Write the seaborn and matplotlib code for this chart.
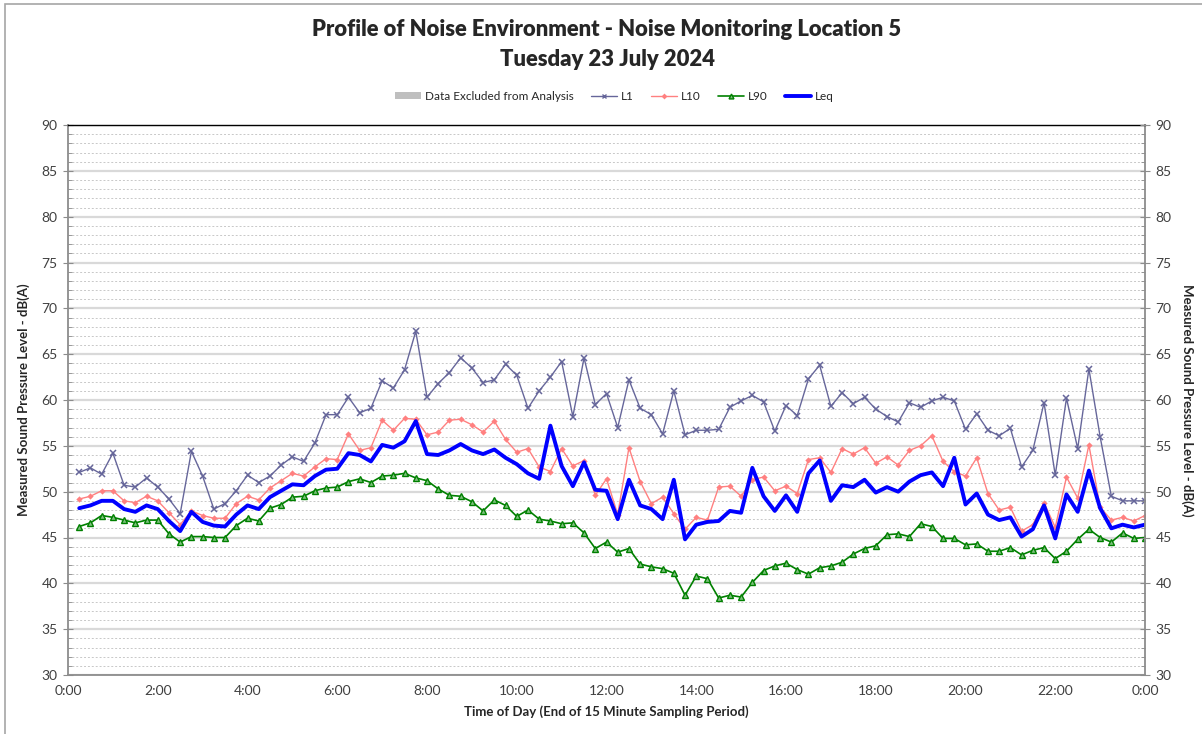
import numpy as np
import pandas as pd
import matplotlib
matplotlib.use("Agg")
import matplotlib.pyplot as plt
import seaborn as sns
from matplotlib.ticker import MultipleLocator, FuncFormatter
from matplotlib.patches import Rectangle, Patch
from matplotlib.lines import Line2D

# 15 minute periods, end times in hours (0:15 ... 24:00)
hours = np.arange(1, 97) * 0.25

L1 = [52.1, 52.6, 51.9, 54.2, 50.7, 50.5, 51.5, 50.5, 49.2, 47.6, 54.4, 51.7, 48.1, 48.7, 50.1, 51.8,
      51.0, 51.7, 52.9, 53.8, 53.3, 55.3, 58.4, 58.4, 60.3, 58.6, 59.1, 62.1, 61.3, 63.3, 67.5, 60.3,
      61.8, 63.0, 64.6, 63.5, 61.9, 62.2, 63.9, 62.7, 59.1, 61.0, 62.5, 64.2, 58.2, 64.6, 59.5, 60.7,
      57.0, 62.2, 59.1, 58.4, 56.3, 61.0, 56.2, 56.7, 56.7, 56.8, 59.2, 59.9, 60.5, 59.8, 56.6, 59.4,
      58.3, 62.3, 63.8, 59.3, 60.8, 59.6, 60.3, 59.0, 58.2, 57.6, 59.7, 59.2, 59.9, 60.3, 59.9, 56.8,
      58.5, 56.7, 56.1, 56.9, 52.7, 54.5, 59.7, 51.8, 60.2, 54.7, 63.4, 56.0, 49.5, 49.0, 49.0, 49.0]

L10 = [49.2, 49.5, 50.1, 50.1, 49.0, 48.8, 49.5, 49.0, 47.7, 46.4, 47.9, 47.4, 47.1, 47.1, 48.7, 49.5,
       49.1, 50.4, 51.2, 52.0, 51.7, 52.7, 53.6, 53.5, 56.3, 54.5, 54.8, 57.8, 56.7, 58.0, 57.9, 56.2,
       56.5, 57.8, 57.9, 57.3, 56.5, 57.7, 55.7, 54.3, 54.7, 52.7, 52.2, 54.7, 52.8, 53.4, 49.6, 51.4,
       47.5, 54.8, 51.1, 48.7, 49.4, 47.6, 45.9, 47.2, 46.9, 50.5, 50.6, 49.5, 51.3, 51.6, 50.1, 50.6,
       49.8, 53.5, 53.7, 52.1, 54.7, 54.1, 54.8, 53.1, 53.8, 52.9, 54.5, 55.0, 56.1, 53.3, 52.2, 51.7,
       53.7, 49.8, 48.0, 48.3, 45.7, 46.4, 48.8, 46.1, 51.6, 49.3, 55.1, 48.3, 46.9, 47.2, 46.8, 47.4]

L90 = [46.2, 46.6, 47.4, 47.2, 46.9, 46.6, 46.9, 46.9, 45.4, 44.5, 45.1, 45.1, 45.0, 45.0, 46.3, 47.1,
       46.8, 48.2, 48.6, 49.4, 49.5, 50.1, 50.4, 50.5, 51.1, 51.4, 51.0, 51.7, 51.8, 52.0, 51.5, 51.2,
       50.3, 49.6, 49.5, 48.9, 47.9, 49.1, 48.5, 47.3, 48.0, 47.0, 46.8, 46.5, 46.6, 45.5, 43.8, 44.5,
       43.4, 43.8, 42.1, 41.8, 41.6, 41.1, 38.7, 40.8, 40.5, 38.4, 38.7, 38.5, 40.1, 41.4, 41.9, 42.2,
       41.5, 41.0, 41.7, 41.9, 42.3, 43.2, 43.8, 44.1, 45.3, 45.4, 45.1, 46.5, 46.2, 44.9, 44.9, 44.2,
       44.3, 43.5, 43.5, 43.9, 43.1, 43.6, 43.9, 42.7, 43.5, 44.8, 45.9, 45.0, 44.5, 45.5, 44.9, 45.0]

Leq = [48.2, 48.5, 49.0, 49.0, 48.1, 47.8, 48.5, 48.1, 46.8, 45.7, 47.8, 46.7, 46.3, 46.2, 47.5, 48.5,
       48.1, 49.4, 50.1, 50.8, 50.7, 51.7, 52.4, 52.5, 54.2, 54.0, 53.3, 55.1, 54.8, 55.5, 57.7, 54.1,
       54.0, 54.5, 55.2, 54.5, 54.1, 54.6, 53.7, 53.0, 52.0, 51.4, 57.2, 52.8, 50.6, 53.2, 50.2, 50.1,
       47.0, 51.3, 48.5, 48.1, 47.0, 51.3, 44.8, 46.4, 46.7, 46.8, 47.9, 47.7, 52.6, 49.5, 47.9, 49.6,
       47.8, 52.0, 53.4, 49.0, 50.7, 50.5, 51.3, 49.9, 50.5, 50.0, 51.1, 51.8, 52.1, 50.6, 53.7, 48.6,
       49.8, 47.5, 46.9, 47.2, 45.1, 45.9, 48.5, 44.9, 49.7, 47.8, 52.3, 48.2, 46.0, 46.4, 46.1, 46.4]

df = pd.DataFrame({'hour': hours, 'L1': L1, 'L10': L10, 'L90': L90, 'Leq': Leq})

sns.set_style('white')
plt.rcParams['font.family'] = ['Lato', 'DejaVu Sans']

fig = plt.figure(figsize=(12.02, 7.34), dpi=100)
ax = fig.add_axes([68 / 1202, 1 - 675 / 734, (1145 - 68) / 1202, 550 / 734])

# outer chart frame
fig.patches.append(Rectangle((5 / 1202, -0.1), 1.2, 1 - 4 / 734 + 0.1, transform=fig.transFigure,
                             fill=False, edgecolor='#a6a6a6', linewidth=1.2))

sns.lineplot(data=df, x='hour', y='L1', ax=ax, color='#66669a', linewidth=1,
             marker='x', markersize=4, markeredgewidth=1.1, markeredgecolor='#66669a')
sns.lineplot(data=df, x='hour', y='L10', ax=ax, color='#ff8080', linewidth=1,
             marker='D', markersize=3.2, markeredgewidth=0)
sns.lineplot(data=df, x='hour', y='L90', ax=ax, color='#008000', linewidth=1.2,
             marker='^', markersize=4.5, markerfacecolor='#7fbf7f', markeredgecolor='#008000',
             markeredgewidth=1)
sns.lineplot(data=df, x='hour', y='Leq', ax=ax, color='#0000ff', linewidth=2.8)

ax.set_xlim(0, 24)
ax.set_ylim(30, 90)
ax.xaxis.set_major_locator(MultipleLocator(2))
ax.xaxis.set_minor_locator(MultipleLocator(0.5))
ax.xaxis.set_major_formatter(FuncFormatter(lambda v, p: f"{int(v) % 24}:00"))
ax.yaxis.set_major_locator(MultipleLocator(5))
ax.yaxis.set_minor_locator(MultipleLocator(1))

ax.grid(which='major', axis='y', color='#d9d9d9', linewidth=1.6, linestyle='-')
ax.grid(which='minor', axis='y', color='#c8c8c8', linewidth=0.7, linestyle=(0, (2, 2)))
ax.grid(which='both', axis='x', visible=False)
ax.set_axisbelow(True)

for s in ['left', 'right', 'bottom']:
    ax.spines[s].set_color('#8c8c8c')
    ax.spines[s].set_linewidth(1.3)
ax.spines['top'].set_color('#000000')
ax.spines['top'].set_linewidth(1.0)

ax.tick_params(axis='both', which='major', direction='inout', length=7, color='#8c8c8c',
               labelsize=10, labelcolor='#404040', pad=4)
ax.tick_params(axis='both', which='minor', direction='in', length=3, color='#8c8c8c')

ax.set_xlabel('Time of Day (End of 15 Minute Sampling Period)', fontsize=9.5,
              fontweight='bold', labelpad=6)
ax.set_ylabel('Measured Sound Pressure Level - dB(A)', fontsize=9.5, fontweight='bold',
              labelpad=8)

ax2 = ax.twinx()
ax2.set_ylim(30, 90)
ax2.yaxis.set_major_locator(MultipleLocator(5))
ax2.yaxis.set_minor_locator(MultipleLocator(1))
ax2.tick_params(axis='y', which='major', direction='inout', length=7, color='#8c8c8c',
                labelsize=10, labelcolor='#404040', pad=4)
ax2.tick_params(axis='y', which='minor', direction='in', length=3, color='#8c8c8c')
for s in ax2.spines.values():
    s.set_visible(False)
ax2.set_ylabel('Measured Sound Pressure Level - dB(A)', fontsize=9.5, fontweight='bold',
               rotation=270, labelpad=16)

fig.text(0.505, 1 - 29 / 734, 'Profile of Noise Environment - Noise Monitoring Location 5',
         ha='center', va='center', fontsize=15.8, fontweight='heavy')
fig.text(0.505, 1 - 60 / 734, 'Tuesday 23 July 2024',
         ha='center', va='center', fontsize=15.8, fontweight='heavy')

handles = [
    Patch(facecolor='#bfbfbf', edgecolor='none', label='Data Excluded from Analysis'),
    Line2D([], [], color='#66669a', lw=1, marker='x', markersize=3.5, label='L1'),
    Line2D([], [], color='#ff8080', lw=1, marker='D', markersize=3, markeredgewidth=0, label='L10'),
    Line2D([], [], color='#008000', lw=1.2, marker='^', markersize=3.5, markerfacecolor='#7fbf7f',
           label='L90'),
    Line2D([], [], color='#0000ff', lw=2.8, label='Leq'),
]
fig.legend(handles=handles, loc='center', bbox_to_anchor=(0.511, 1 - 96 / 734), ncol=5,
           frameon=False, fontsize=8.5, handlelength=2.2, handleheight=0.6, columnspacing=1.5,
           handletextpad=0.3)

fig.savefig('out.png', dpi=100)
